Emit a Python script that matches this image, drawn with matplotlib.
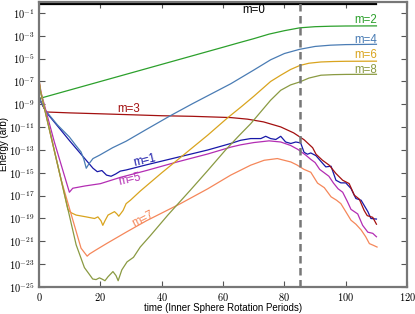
import numpy as np
import matplotlib
matplotlib.use("Agg")
import matplotlib.pyplot as plt
from matplotlib.ticker import FixedLocator, FixedFormatter

plt.rcParams['mathtext.fontset'] = 'cm'
plt.rcParams['font.family'] = ['Liberation Sans', 'DejaVu Sans']

# ---- data: time (rotation periods) and log10(energy) ----
t_m0 = [0, 110]
e_m0 = [-0.2, -0.2]

t_m1 = [0, 0.65, 2.3, 10, 17.6, 19, 20.5, 22, 23.5, 25, 26.5, 28.4, 35, 45, 55, 62.5, 65.7, 69, 72.3,
        73.9, 75.5, 77.2, 78.8, 80.4, 82.1, 83.7, 85.3, 86.4, 87.5, 88.6, 90.3, 91.9, 93.5, 95.2,
        96.8, 98.4, 100, 101.7, 103.3, 105, 107.2, 108.2, 110]
e_m1 = [-8.3, -8.8, -9.67, -12.2, -14.6, -14.9, -14.8, -15.2, -15.3, -15.1, -14.85, -14.75, -14.3,
        -13.65, -13.0, -12.43, -12.15, -12.0, -12.0, -11.8, -12.0, -12.08, -11.8, -12.3, -12.43,
        -12.3, -12.38, -13.2, -13.37, -13.26, -13.5, -14.0, -14.48, -14.42, -15.65, -15.88, -15.88,
        -16.37, -17.25, -17.4, -18.4, -19.0, -19.05]

t_m2 = [0, 10, 20, 30, 40, 50, 60, 65, 70, 75, 80, 85, 90, 95, 100, 110]
e_m2 = [-8.5, -7.75, -7.0, -6.25, -5.5, -4.75, -4.0, -3.62, -3.25, -2.85, -2.55, -2.3, -2.2,
        -2.16, -2.14, -2.13]

t_m3 = [0, 0.65, 2.3, 10, 20, 28.4, 40, 50, 62.5, 68, 73.2, 78.8, 83, 86.4, 89.2, 90.3, 92.4,
        94.6, 96.8, 99, 101.1, 102.8, 104.4, 106, 107, 108.8, 110]
e_m3 = [-8.3, -8.8, -9.67, -9.75, -9.83, -9.9, -10.0, -10.05, -10.16, -10.3, -10.54, -10.98,
        -11.5, -12.1, -12.8, -13.37, -13.9, -14.33, -15.06, -15.65, -15.94, -16.96, -17.3, -18.3,
        -18.75, -18.9, -19.5]

t_m4 = [0, 0.65, 2.3, 6, 9.9, 12, 13.7, 14.6, 15.4, 16.3, 17.6, 19.7, 24, 28.4, 35, 42.8, 50,
        62.5, 70, 75.5, 80, 85, 90, 95, 100, 110]
e_m4 = [-8.3, -8.8, -9.6, -10.8, -11.86, -12.6, -13.17, -13.8, -14.6, -14.2, -13.75, -13.46,
        -12.8, -12.23, -11.2, -10.0, -8.95, -7.2, -6.0, -5.1, -4.55, -4.18, -3.93, -3.82, -3.77,
        -3.74]

t_m5 = [0, 0.7, 5, 9.9, 11, 15, 20, 26.5, 35, 45, 55, 62.5, 65.7, 70, 75, 78.8, 82, 84.4, 87,
        88.5, 90, 91.5, 93, 94.5, 96, 97.5, 99, 100.5, 101.7, 103.9, 105.5, 107.2, 108.8, 110]
e_m5 = [-6.9, -8.0, -12.3, -16.7, -16.35, -16.15, -15.95, -15.4, -14.8, -14.05, -13.35, -12.75,
        -12.55, -12.35, -12.2, -12.3, -12.6, -12.95, -13.46, -13.8, -14.1, -14.7, -15.0, -15.3,
        -15.9, -16.4, -16.7, -17.5, -18.2, -18.6, -19.6, -20.2, -20.3, -20.6]

t_m6 = [0, 0.5, 7.2, 9.4, 10.5, 12.1, 15.4, 18.1, 19.2, 20.2, 20.8, 21.5, 22.5, 24.6, 25.4, 26,
        27.4, 28.4, 29.8, 33, 40, 45, 50, 55, 61.4, 66, 70, 75.5, 78.8, 82, 85, 88, 91.9, 96, 100,
        110]
e_m6 = [-6.8, -7.8, -15.6, -18.2, -18.5, -18.7, -18.86, -19.0, -18.86, -19.2, -19.6, -19.2, -18.7,
        -18.4, -18.6, -18.8, -18.3, -17.7, -17.4, -16.6, -15.0, -13.9, -12.8, -11.7, -10.2, -9.2,
        -8.3, -7.0, -6.45, -5.95, -5.6, -5.4, -5.29, -5.25, -5.23, -5.22]

t_m7 = [0, 0.5, 7.2, 13.7, 15.7, 16.5, 18.6, 22, 28.4, 35, 46.1, 55, 62.5, 69, 73.4, 77.7, 82.1,
        84, 86.4, 88.6, 90.8, 93, 95.2, 97, 98.4, 100, 101.7, 103.3, 105, 106.5, 107.7, 109, 110.2]
e_m7 = [-7.0, -7.9, -15.6, -21.6, -22.3, -22.1, -21.75, -21.2, -20.2, -19.2, -17.7, -16.4, -15.2,
        -14.33, -13.9, -13.75, -14.05, -14.3, -14.7, -14.95, -15.9, -16.3, -17.1, -17.4, -17.7,
        -18.4, -19.15, -19.5, -20.0, -20.6, -21.2, -21.35, -21.5]

t_m8 = [0, 0.5, 7.2, 12.1, 14.8, 16.7, 17.5, 18.6, 19.7, 20.5, 21.5, 22.5, 24.1, 25.1, 25.8, 27,
        28.7, 30.8, 33, 36.3, 42, 49.4, 55, 60.8, 65, 69, 75.5, 78.8, 82, 85, 88, 91.9, 96, 100, 110]
e_m8 = [-7.0, -7.9, -15.6, -21.3, -23.3, -24.0, -24.3, -24.35, -24.2, -24.3, -24.45, -24.1, -23.65,
        -24.0, -24.45, -23.5, -22.8, -22.4, -21.5, -20.5, -18.7, -16.5, -14.8, -13.0, -11.8, -10.7,
        -8.64, -7.77, -7.3, -7.04, -6.7, -6.45, -6.4, -6.38, -6.37]

x_ticks = [0, 20, 40, 60, 80, 100, 120]
y_exps = [-1, -3, -5, -7, -9, -11, -13, -15, -17, -19, -21, -23, -25]
t_marker = 85

series = [
    ('m=0', t_m0, e_m0, 'black'),
    ('m=1', t_m1, e_m1, '#1818a8'),
    ('m=2', t_m2, e_m2, '#2ca02c'),
    ('m=3', t_m3, e_m3, '#a31010'),
    ('m=4', t_m4, e_m4, '#4a7cb4'),
    ('m=5', t_m5, e_m5, '#b32db3'),
    ('m=6', t_m6, e_m6, '#d9a41e'),
    ('m=7', t_m7, e_m7, '#f5875a'),
    ('m=8', t_m8, e_m8, '#8a9a42'),
]

fig = plt.figure(figsize=(4.15, 3.14), dpi=100)
ax = fig.add_axes([0.094, 0.086, 0.887, 0.909])

for name, t, e, c in series:
    lw = 1.6 if name == 'm=0' else 0.9
    ax.plot(t, 10.0 ** np.array(e), color=c, lw=lw)

ax.axvline(t_marker, color='#777777', lw=1.8, ls=(0, (3.0, 1.8)))

ax.set_yscale('log')
ax.set_xlim(0, 120)
ax.set_ylim(1e-25, 1e0)

ax.xaxis.set_major_locator(FixedLocator(x_ticks))
ax.xaxis.set_major_formatter(FixedFormatter(['$%d$' % v for v in x_ticks]))
ax.yaxis.set_major_locator(FixedLocator([10.0 ** k for k in y_exps]))
ax.yaxis.set_major_formatter(FixedFormatter(['$10^{%d}$' % k for k in y_exps]))
ax.yaxis.set_minor_locator(FixedLocator([]))
ax.tick_params(which='both', direction='in', top=True, right=True, length=4,
               width=0.8, color='#555555', labelsize=7.5, pad=3)

for s in ax.spines.values():
    s.set_color('#777777')
    s.set_linewidth(1.6)

ax.set_xlabel('time (Inner Sphere Rotation Periods)', fontsize=7, va='center')
ax.set_ylabel('Energy (arb)', fontsize=7, va='center')
ax.xaxis.set_label_coords(0.5, -0.073)
ax.yaxis.set_label_coords(-0.094, 0.5)

# labels
lab_kw = dict(fontsize=8.3)
ax.text(70.1, 10 ** -0.72, 'm=0', color='black', ha='center', va='center', **lab_kw)
ax.text(110.2, 10 ** -1.64, 'm=2', color='#2ca02c', ha='right', va='center', **lab_kw)
ax.text(110.2, 10 ** -3.39, 'm=4', color='#4a7cb4', ha='right', va='center', **lab_kw)
ax.text(110.2, 10 ** -4.64, 'm=6', color='#d9a41e', ha='right', va='center', **lab_kw)
ax.text(110.2, 10 ** -5.95, 'm=8', color='#8a9a42', ha='right', va='center', **lab_kw)
ax.text(29.1, 10 ** -9.39, 'm=3', color='#a31010', ha='center', va='center', **lab_kw)
ax.text(34.3, 10 ** -13.9, 'm=1', color='#1818a8', ha='center', va='center', rotation=13, **lab_kw)
ax.text(29.6, 10 ** -15.6, 'm=5', color='#b32db3', ha='center', va='center', rotation=13, **lab_kw)
ax.text(34.0, 10 ** -19.1, 'm=7', color='#f5875a', ha='center', va='center', rotation=27, **lab_kw)

fig.savefig('out.png', dpi=100)
